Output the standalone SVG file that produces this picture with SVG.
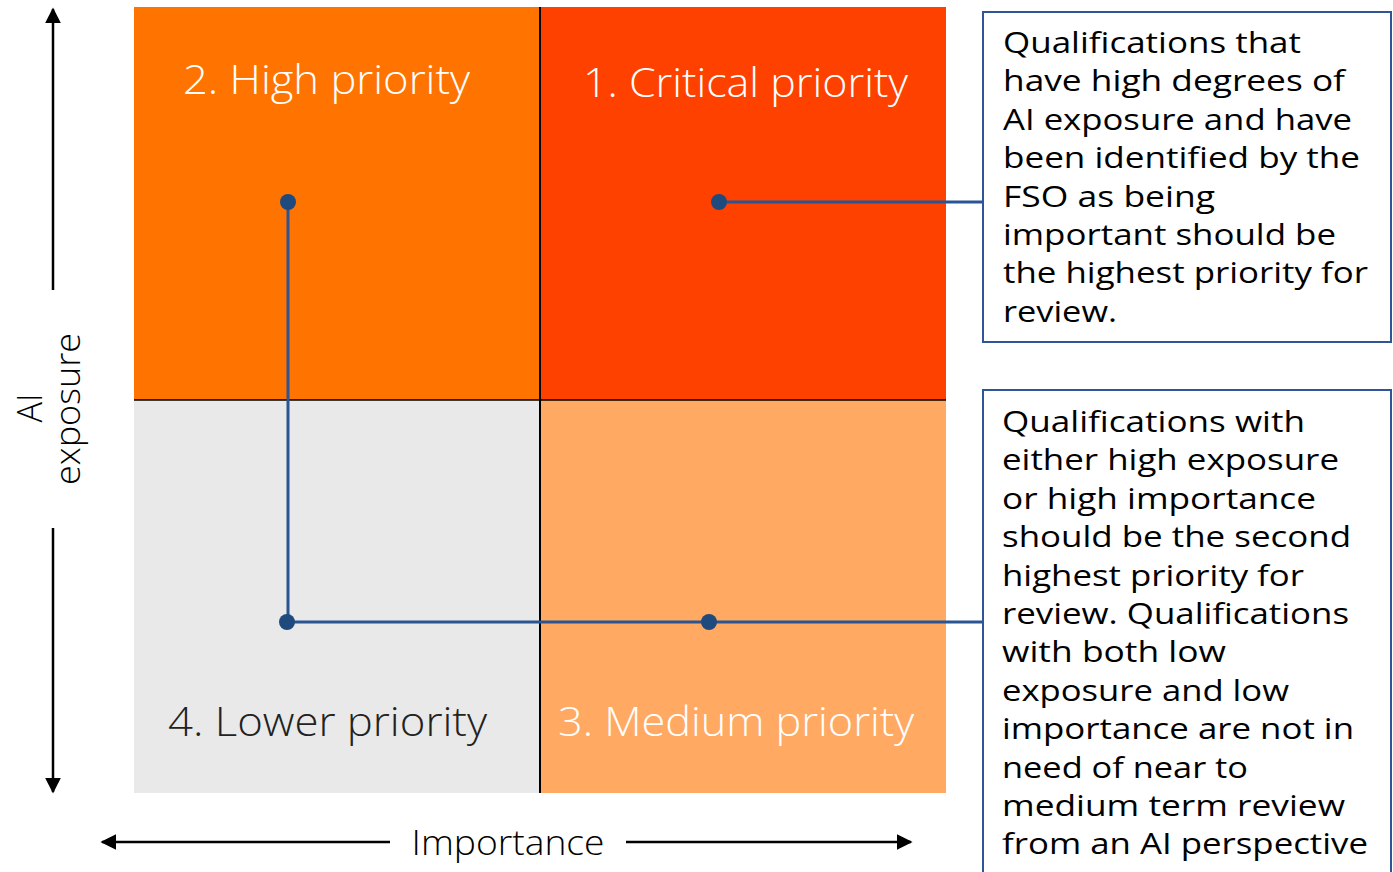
<svg xmlns="http://www.w3.org/2000/svg" width="1393" height="872" viewBox="0 0 1393 872">
<style>
.q{font-family:"Open Sans","Liberation Sans",sans-serif;font-weight:300;font-size:40px}
.ax{font-family:"Open Sans","Liberation Sans",sans-serif;font-weight:300;font-size:34px;fill:#000}
.b{font-family:"Open Sans","Liberation Sans",sans-serif;font-weight:500;font-size:30px;fill:#000}
.arr{stroke:#000;stroke-width:2.5;fill:none}
.con{stroke:#2B5592;stroke-width:3;fill:none}
.dot{fill:#1F4A7E}
.box{fill:#fff;stroke:#2F5597;stroke-width:2}
</style>
<defs>
<marker id="ah" viewBox="0 0 10 10" refX="9" refY="5" markerWidth="16" markerHeight="16" markerUnits="userSpaceOnUse" orient="auto">
<path d="M0,0 L10,5 L0,10 z" fill="#000"/>
</marker>
</defs>
<rect width="1393" height="872" fill="#fff"/>
<g id="quadrants">
<g id="q2"><rect x="134" y="7" width="406" height="393" fill="#FF7300"/>
<text class="q" x="183" y="94" fill="#fff" textLength="287" lengthAdjust="spacingAndGlyphs">2. High priority</text></g>
<g id="q1"><rect x="540" y="7" width="406" height="393" fill="#FF4100"/>
<text class="q" x="583" y="97" fill="#fff" textLength="325" lengthAdjust="spacingAndGlyphs">1. Critical priority</text></g>
<g id="q4"><rect x="134" y="400" width="406" height="393" fill="#E9E9E9"/>
<text class="q" x="168" y="736" fill="#222" textLength="319" lengthAdjust="spacingAndGlyphs">4. Lower priority</text></g>
<g id="q3"><rect x="540" y="400" width="406" height="393" fill="#FFA962"/>
<text class="q" x="558" y="736" fill="#fff" textLength="356" lengthAdjust="spacingAndGlyphs">3. Medium priority</text></g>
<line x1="540" y1="7" x2="540" y2="793" stroke="#000" stroke-width="2"/>
<line x1="134" y1="400" x2="946" y2="400" stroke="#000" stroke-width="1.5"/>
</g>
<g id="axes">
<line class="arr" x1="53" y1="290" x2="53" y2="9" marker-end="url(#ah)"/>
<line class="arr" x1="53" y1="528" x2="53" y2="792" marker-end="url(#ah)"/>
<line class="arr" x1="390" y1="842" x2="102" y2="842" marker-end="url(#ah)"/>
<line class="arr" x1="626" y1="842" x2="911" y2="842" marker-end="url(#ah)"/>
<text class="ax" x="508" y="855" text-anchor="middle" textLength="193" lengthAdjust="spacingAndGlyphs">Importance</text>
<g transform="translate(42,408) rotate(-90)"><text class="ax" x="0" y="0" text-anchor="middle">AI</text></g>
<g transform="translate(80,409) rotate(-90)"><text class="ax" x="0" y="0" text-anchor="middle" textLength="152" lengthAdjust="spacingAndGlyphs">exposure</text></g>
</g>
<g id="connectors">
<line class="con" x1="719" y1="202" x2="984" y2="202"/>
<line class="con" x1="288" y1="202" x2="288" y2="622"/>
<line class="con" x1="287" y1="622" x2="984" y2="622"/>
<circle class="dot" cx="288" cy="202" r="8"/>
<circle class="dot" cx="719" cy="202" r="8"/>
<circle class="dot" cx="287" cy="622" r="8"/>
<circle class="dot" cx="709" cy="622" r="8"/>
</g>
<g id="box1">
<rect class="box" x="983" y="12" width="408" height="330"/>
<text class="b" x="1003" y="53" textLength="298" lengthAdjust="spacingAndGlyphs">Qualifications that</text>
<text class="b" x="1003" y="91.4" textLength="342" lengthAdjust="spacingAndGlyphs">have high degrees of</text>
<text class="b" x="1003" y="129.8" textLength="349" lengthAdjust="spacingAndGlyphs">AI exposure and have</text>
<text class="b" x="1003" y="168.2" textLength="357" lengthAdjust="spacingAndGlyphs">been identified by the</text>
<text class="b" x="1003" y="206.6" textLength="212" lengthAdjust="spacingAndGlyphs">FSO as being</text>
<text class="b" x="1003" y="245" textLength="333" lengthAdjust="spacingAndGlyphs">important should be</text>
<text class="b" x="1003" y="283.4" textLength="365" lengthAdjust="spacingAndGlyphs">the highest priority for</text>
<text class="b" x="1003" y="321.8" textLength="114" lengthAdjust="spacingAndGlyphs">review.</text>
</g>
<g id="box2">
<rect class="box" x="983" y="390" width="408" height="490"/>
<text class="b" x="1002" y="432" textLength="303" lengthAdjust="spacingAndGlyphs">Qualifications with</text>
<text class="b" x="1002" y="470.4" textLength="337" lengthAdjust="spacingAndGlyphs">either high exposure</text>
<text class="b" x="1002" y="508.8" textLength="314" lengthAdjust="spacingAndGlyphs">or high importance</text>
<text class="b" x="1002" y="547.2" textLength="349" lengthAdjust="spacingAndGlyphs">should be the second</text>
<text class="b" x="1002" y="585.6" textLength="302" lengthAdjust="spacingAndGlyphs">highest priority for</text>
<text class="b" x="1002" y="624" textLength="347" lengthAdjust="spacingAndGlyphs">review. Qualifications</text>
<text class="b" x="1002" y="662.4" textLength="224" lengthAdjust="spacingAndGlyphs">with both low</text>
<text class="b" x="1002" y="700.8" textLength="287" lengthAdjust="spacingAndGlyphs">exposure and low</text>
<text class="b" x="1002" y="739.2" textLength="352" lengthAdjust="spacingAndGlyphs">importance are not in</text>
<text class="b" x="1002" y="777.6" textLength="246" lengthAdjust="spacingAndGlyphs">need of near to</text>
<text class="b" x="1002" y="816" textLength="343" lengthAdjust="spacingAndGlyphs">medium term review</text>
<text class="b" x="1002" y="854.4" textLength="366" lengthAdjust="spacingAndGlyphs">from an AI perspective</text>
</g>
</svg>
